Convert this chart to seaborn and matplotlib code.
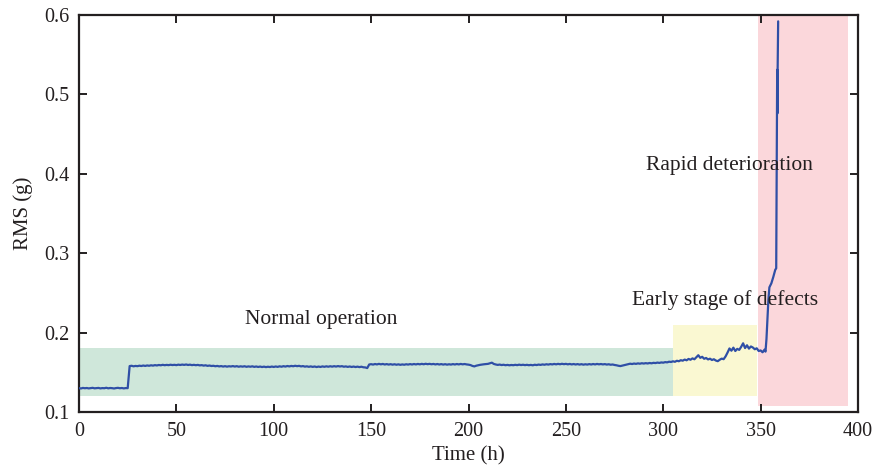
import numpy as np
import pandas as pd
import matplotlib
matplotlib.use("Agg")
import matplotlib.pyplot as plt
import seaborn as sns

# ---------------- data ----------------
# hourly RMS during normal operation, t = 0 .. 304 h
rms_normal = [
    0.1300, 0.1296, 0.1303, 0.1299, 0.1302, 0.1297, 0.1301, 0.1304, 0.1298, 0.1300,
    0.1303, 0.1297, 0.1301, 0.1299, 0.1305, 0.1298, 0.1302, 0.1300, 0.1296, 0.1301,
    0.1304, 0.1299, 0.1302, 0.1297, 0.1301, 0.1300,
    0.1578, 0.1582, 0.1575, 0.1580,
    0.1577, 0.1583, 0.1579, 0.1585, 0.1580, 0.1586, 0.1582, 0.1588, 0.1584, 0.1590,
    0.1586, 0.1592, 0.1588, 0.1594, 0.1589, 0.1593, 0.1590, 0.1595, 0.1591, 0.1594,
    0.1590, 0.1596, 0.1592, 0.1597, 0.1593, 0.1598, 0.1592, 0.1596, 0.1590, 0.1594,
    0.1589, 0.1593, 0.1587, 0.1590, 0.1584, 0.1588, 0.1581, 0.1585, 0.1579, 0.1582,
    0.1576, 0.1580, 0.1574, 0.1578, 0.1572, 0.1577, 0.1571, 0.1576, 0.1573, 0.1578,
    0.1572, 0.1577, 0.1570, 0.1575, 0.1571, 0.1576, 0.1569, 0.1574, 0.1570, 0.1575,
    0.1568, 0.1573, 0.1567, 0.1572, 0.1566, 0.1571, 0.1565, 0.1570, 0.1566, 0.1572,
    0.1567, 0.1573, 0.1568, 0.1575, 0.1570, 0.1577, 0.1572, 0.1579, 0.1574, 0.1580,
    0.1576, 0.1582, 0.1577, 0.1581, 0.1574, 0.1578, 0.1571, 0.1575, 0.1569, 0.1574,
    0.1568, 0.1573, 0.1566, 0.1572, 0.1567, 0.1574, 0.1569, 0.1575, 0.1570, 0.1576,
    0.1571, 0.1577, 0.1572, 0.1578, 0.1573, 0.1577, 0.1570, 0.1574, 0.1568, 0.1573,
    0.1567, 0.1572, 0.1566, 0.1571, 0.1565, 0.1570, 0.1563, 0.1561, 0.1553, 0.1598,
    0.1602, 0.1597, 0.1604, 0.1599, 0.1606, 0.1600, 0.1605, 0.1598, 0.1603, 0.1597,
    0.1602, 0.1596, 0.1601, 0.1595, 0.1600, 0.1594, 0.1599, 0.1595, 0.1601, 0.1597,
    0.1603, 0.1598, 0.1604, 0.1599, 0.1605, 0.1600, 0.1606, 0.1601, 0.1607, 0.1602,
    0.1606, 0.1601, 0.1605, 0.1599, 0.1604, 0.1598, 0.1603, 0.1597, 0.1602, 0.1596,
    0.1601, 0.1597, 0.1603, 0.1598, 0.1604, 0.1599, 0.1605, 0.1600, 0.1604, 0.1599,
    0.1596, 0.1591, 0.1580, 0.1574, 0.1583, 0.1589, 0.1594, 0.1598, 0.1601, 0.1604,
    0.1606, 0.1614, 0.1621, 0.1605, 0.1598, 0.1593, 0.1597, 0.1591, 0.1595, 0.1589,
    0.1593, 0.1588, 0.1592, 0.1589, 0.1594, 0.1590, 0.1596, 0.1591, 0.1595, 0.1590,
    0.1594, 0.1589, 0.1593, 0.1588, 0.1595, 0.1591, 0.1597, 0.1593, 0.1599, 0.1595,
    0.1601, 0.1597, 0.1603, 0.1599, 0.1605, 0.1600, 0.1606, 0.1601, 0.1607, 0.1602,
    0.1606, 0.1600, 0.1605, 0.1599, 0.1604, 0.1598, 0.1603, 0.1597, 0.1602, 0.1596,
    0.1601, 0.1597, 0.1603, 0.1598, 0.1604, 0.1599, 0.1605, 0.1600, 0.1604, 0.1599,
    0.1603, 0.1597, 0.1601, 0.1595, 0.1598, 0.1592, 0.1588, 0.1582, 0.1578, 0.1584,
    0.1590, 0.1596, 0.1602, 0.1608, 0.1604, 0.1610, 0.1606, 0.1612, 0.1608, 0.1614,
    0.1610, 0.1615, 0.1611, 0.1617, 0.1613, 0.1619, 0.1616, 0.1622, 0.1618, 0.1624,
    0.1621, 0.1628, 0.1625, 0.1633, 0.1630,
]
# hourly RMS during early defect stage, t = 305 .. 352 h
rms_early = [
    0.1638, 0.1632, 0.1645, 0.1639, 0.1652,
    0.1646, 0.1660, 0.1651, 0.1668, 0.1658, 0.1675, 0.1664, 0.1690, 0.1715, 0.1682,
    0.1695, 0.1670, 0.1680, 0.1662, 0.1671, 0.1655, 0.1664, 0.1648, 0.1640, 0.1658,
    0.1672, 0.1665, 0.1700, 0.1748, 0.1800, 0.1772, 0.1810, 0.1768, 0.1795, 0.1782,
    0.1820, 0.1865, 0.1805, 0.1840, 0.1798, 0.1825, 0.1812, 0.1790, 0.1802, 0.1768,
    0.1775, 0.1752, 0.1785,
]
# rapid deterioration
spike_hours = [352.5, 353.0, 353.5, 354.0, 354.5, 355.5, 356.5, 357.5, 358.0,
               358.4, 358.5, 358.6, 358.7, 359.0]
spike_rms = [0.176, 0.192, 0.218, 0.242, 0.257, 0.262, 0.270, 0.279, 0.281,
             0.470, 0.531, 0.476, 0.524, 0.592]

# stage regions: (x0, x1, y0, y1)
stage_names = ["Normal operation", "Early stage of defects", "Rapid deterioration"]
stage_x0 = [0, 305, 348.5]
stage_x1 = [305, 348, 395]
stage_y0 = [0.12, 0.12, 0.108]
stage_y1 = [0.18, 0.21, 0.60]
stage_colors = ["#cfe7da", "#faf8d2", "#fbd7db"]
label_x = [124.6, 331.6, 334.0]
label_y = [0.216, 0.241, 0.410]

x_ticks = [0, 50, 100, 150, 200, 250, 300, 350, 400]
y_ticks = [0.1, 0.2, 0.3, 0.4, 0.5, 0.6]

# ---------------- build table ----------------
hours = np.concatenate([np.arange(0, len(rms_normal)),
                        np.arange(305, 305 + len(rms_early)),
                        np.array(spike_hours)])
values = np.concatenate([rms_normal, rms_early, spike_rms])
df = pd.DataFrame({"Time (h)": hours, "RMS (g)": values})

# ---------------- style ----------------
sns.set_style("ticks")
plt.rcParams["font.family"] = ["Liberation Serif", "DejaVu Serif"]
plt.rcParams["font.size"] = 14
ink = "#231f20"

fig = plt.figure(figsize=(8.74, 4.76), dpi=100)
ax = fig.add_axes([0.0904, 0.1345, 0.8913, 0.834])

for x0, x1, y0, y1, c in zip(stage_x0, stage_x1, stage_y0, stage_y1, stage_colors):
    ax.fill_between([x0, x1], y0, y1, color=c, linewidth=0, zorder=0)

sns.lineplot(data=df, x="Time (h)", y="RMS (g)", ax=ax, color="#2f4fa6",
             linewidth=1.6, estimator=None, sort=False, zorder=3)

for name, lx, ly in zip(stage_names, label_x, label_y):
    ax.text(lx, ly, name, ha="center", va="center", fontsize=15.5, color=ink, zorder=4)

ax.set_xlim(0, 400)
ax.set_ylim(0.1, 0.6)
ax.set_xticks(x_ticks)
ax.set_yticks(y_ticks)
ax.set_xticklabels([str(v) for v in x_ticks])
ax.set_yticklabels([f"{v:.1f}" for v in y_ticks])
ax.tick_params(direction="in", length=6, width=1.4, top=True, right=True,
               labelsize=14.5, colors=ink, pad=7)
for s in ax.spines.values():
    s.set_linewidth(1.6)
    s.set_color(ink)
ax.set_xlabel("Time (h)", fontsize=15, color=ink, labelpad=4)
ax.set_ylabel("RMS (g)", fontsize=15, color=ink, labelpad=8)

fig.savefig("out.png", dpi=100)
